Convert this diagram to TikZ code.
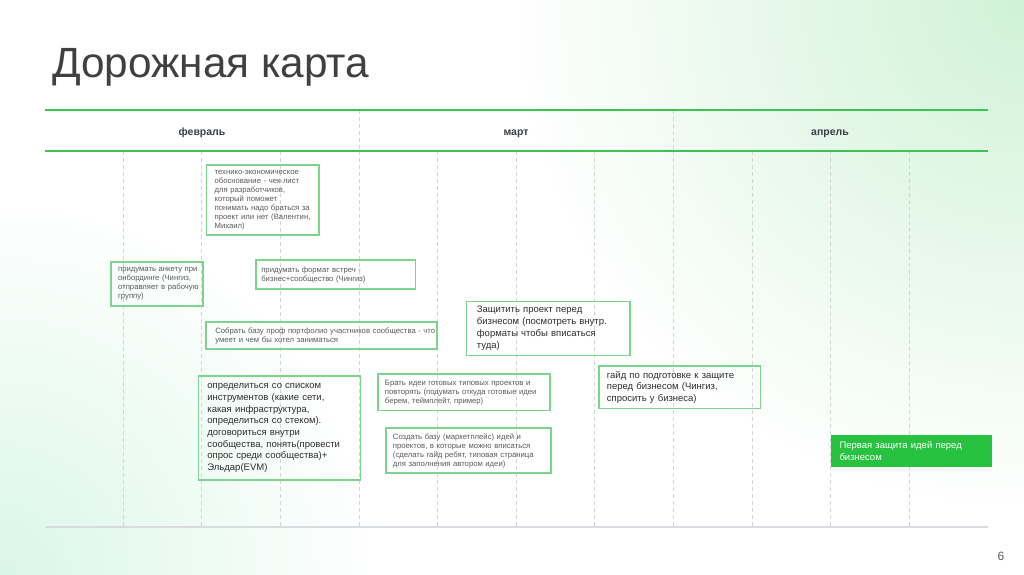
\documentclass[tikz,border=0pt]{standalone}
\usepackage{fontspec}
\setmainfont{Liberation Sans}
\definecolor{titlegray}{RGB}{64,64,64}
\definecolor{headgreen}{RGB}{60,196,80}
\definecolor{boxgreen}{RGB}{125,212,140}
\definecolor{fillgreen}{RGB}{38,194,64}
\definecolor{dashgray}{RGB}{212,212,212}
\definecolor{smalltext}{RGB}{90,90,90}
\definecolor{bigtext}{RGB}{45,45,45}
\definecolor{monthtext}{RGB}{58,62,72}
\definecolor{bottomgray}{RGB}{214,220,226}
\definecolor{tintgreen}{RGB}{208,242,214}
\definecolor{tintcyan}{RGB}{218,246,232}
\begin{document}
\begin{tikzpicture}[x=1pt,y=-1pt,
  frame/.style={draw=boxgreen, line width=1.1pt, inner sep=0pt},
  greenframe/.style={fill=fillgreen, draw=none, inner sep=0pt},
  smalltxt/.style={inner sep=0pt, align=left, text=smalltext, font=\fontsize{7.7}{9}\selectfont},
  bigtxt/.style={inner sep=0pt, align=left, text=bigtext, font=\fontsize{9.5}{11.7}\selectfont},
  whitetxt/.style={bigtxt, text=white, font=\fontsize{9.5}{12.3}\selectfont},
  month/.style={inner sep=0pt, text=monthtext, font=\fontsize{10.5}{12}\selectfont\bfseries},
  gridline/.style={draw=dashgray, line width=0.6pt, dash pattern=on 4pt off 3pt},
  headline/.style={draw=headgreen, line width=1.5pt},
]
\useasboundingbox (0,0) rectangle (1024,574);
\fill[white] (0,0) rectangle (1024,574);
\begin{scope}
  \clip (0,0) rectangle (1024,574);
  \shade[inner color=tintgreen, outer color=white] (1024,0) circle (520);
  \shade[inner color=tintcyan, outer color=white] (0,574) circle (380);
\end{scope}

% title
\node[anchor=base west, inner sep=0pt, text=titlegray, font=\fontsize{42.3}{48}\selectfont] (title) at (52,77) {Дорожная карта};

% header lines
\coordinate (h1l) at (45,110); \coordinate (h1r) at (988,110);
\coordinate (h2l) at (45,151); \coordinate (h2r) at (988,151);
\coordinate (bl) at (45,527); \coordinate (br) at (988,527);

% grid dashed lines
\foreach \i in {0,...,10} {
  \coordinate (gt\i) at ({123+78.6*\i},151);
  \coordinate (gb\i) at ({123+78.6*\i},527);
  \draw[gridline] (gt\i) -- (gb\i);
}
\coordinate (d1t) at (358.8,110); \coordinate (d1b) at (358.8,151);
\coordinate (d2t) at (673.2,110); \coordinate (d2b) at (673.2,151);
\draw[gridline] (d1t) -- (d1b);
\draw[gridline] (d2t) -- (d2b);

\draw[headline] (h1l) -- (h1r);
\draw[headline] (h2l) -- (h2r);
\draw[draw=bottomgray, line width=1.8pt] (bl) -- (br);

% months
\node[month, anchor=base] (feb) at (202,135) {февраль};
\node[month, anchor=base] (mar) at (516,135) {март};
\node[month, anchor=base] (apr) at (830,135) {апрель};

% boxes
\node[frame, minimum width=112.3, minimum height=70] (b1) at (262.8,200) {};
\node[smalltxt, text width=104, anchor=west] (b1t) at ([xshift=8.3]b1.west) {технико-экономическое\\обоснование - чек-лист\\для разработчиков,\\который поможет\\понимать надо браться за\\проект или нет (Валентин,\\Михаил)};

\node[frame, minimum width=92, minimum height=44] (b2) at (157,284) {};
\node[smalltxt, text width=84, anchor=west] (b2t) at ([xshift=7.5]b2.west) {придумать анкету при\\онбординге (Чингиз,\\отправляет в рабочую\\группу)};

\node[frame, minimum width=159.7, minimum height=29] (b3) at (335.8,274.5) {};
\node[smalltxt, text width=150, anchor=west] (b3t) at ([xshift=5.7]b3.west) {придумать формат встреч -\\бизнес+сообщество (Чингиз)};

\node[frame, minimum width=231, minimum height=27] (b4) at (321.5,335.5) {};
\node[smalltxt, text width=220, anchor=west] (b4t) at ([xshift=9.7]b4.west) {Собрать базу проф портфолио участников сообщества - что\\умеет и чем бы хотел заниматься};

\node[frame, minimum width=161.7, minimum height=104] (b5) at (279.2,428) {};
\node[bigtxt, text width=152, anchor=west] (b5t) at ([xshift=9.4]b5.west) {определиться со списком\\инструментов (какие сети,\\какая инфраструктура,\\определиться со стеком).\\договориться внутри\\сообщества, понять(провести\\опрос среди сообщества)+\\Эльдар(EVM)};

\node[frame, minimum width=172, minimum height=36.7] (b6) at (464,392.3) {};
\node[smalltxt, text width=164, anchor=west] (b6t) at ([xshift=7.3]b6.west) {Брать идеи готовых типовых проектов и\\повторять (подумать откуда готовые идеи\\берем, теймплейт, пример)};

\node[frame, minimum width=165, minimum height=45] (b7) at (468.5,450.5) {};
\node[smalltxt, text width=157, anchor=west] (b7t) at ([xshift=7.3]b7.west) {Создать базу (маркетплейс) идей и\\проектов, в которые можно вписаться\\(сделать гайд ребят, типовая страница\\для заполнения автором идеи)};

\node[frame, minimum width=163.3, minimum height=54.3] (b8) at (548.3,328.2) {};
\node[bigtxt, text width=152, anchor=west] (b8t) at ([xshift=10.6]b8.west) {Защитить проект перед\\бизнесом (посмотреть внутр.\\форматы чтобы вписаться\\туда)};

\node[frame, minimum width=161.7, minimum height=42.7] (b9) at (679.8,387.3) {};
\node[bigtxt, text width=152, anchor=west] (b9t) at ([xshift=8.3]b9.west) {гайд по подготовке к защите\\перед бизнесом (Чингиз,\\спросить у бизнеса)};

\node[greenframe, minimum width=161, minimum height=31.7] (b10) at (911,451.2) {};
\node[whitetxt, text width=152, anchor=west] (b10t) at ([xshift=9]b10.west) {Первая защита идей перед\\бизнесом};

% page number
\node[inner sep=0pt, text=smalltext, font=\fontsize{12}{14}\selectfont] (pg) at (1001,556) {6};
\end{tikzpicture}
\end{document}
